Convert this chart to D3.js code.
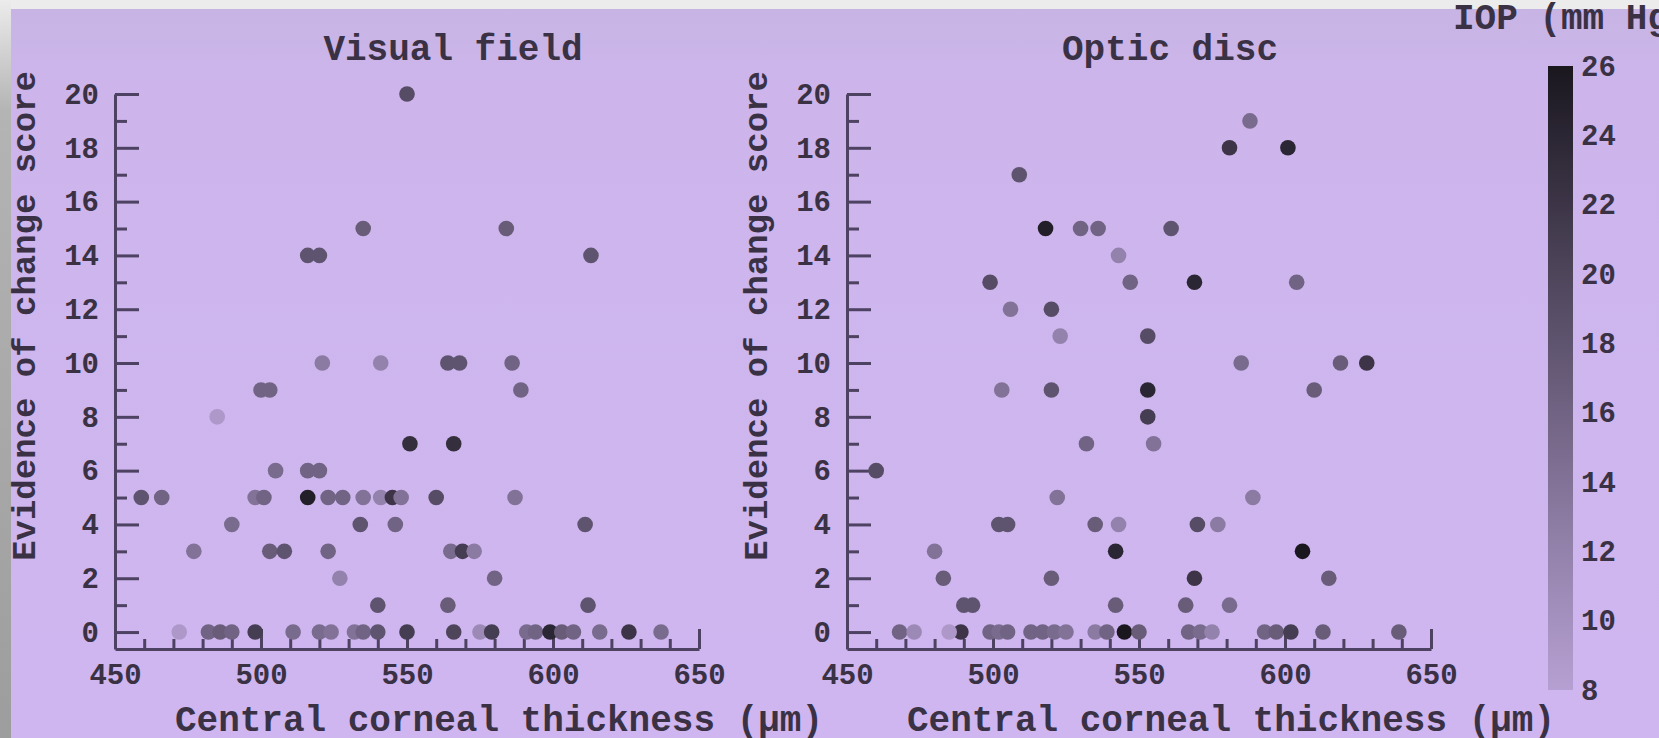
<!DOCTYPE html>
<html>
<head>
<meta charset="utf-8">
<script src="https://cdn.jsdelivr.net/npm/d3@7"></script>
<style>
  body { margin: 0; background: #cfb6f0; overflow: hidden; }
  text { font-family: "Liberation Mono", "Courier New", monospace; fill: #3a3244; font-weight: bold; }
  .tick text { font-size: 29px; }
  .axis path, .axis line { stroke: #4e4262; stroke-width: 3; }
</style>
</head>
<body>
<div id="chart"></div>
<script>
// Visual field panel: CCT (um), evidence of change score, IOP (mm Hg)
const vfCct   = [550, 535, 584, 516, 520, 613, 521, 541, 564, 568, 586, 500, 503, 589, 485, 551, 566,
                 505, 516, 520, 459, 466, 498, 501, 516, 523, 528, 535, 541, 545, 548, 560, 587,
                 490, 534, 546, 611, 477, 503, 508, 523, 565, 569, 573, 527, 580, 540, 564, 612,
                 472, 482, 486, 490, 498, 511, 520, 524, 532, 535, 540, 550, 566, 575, 579, 591,
                 594, 599, 603, 607, 616, 626, 637];
const vfScore = [20, 15, 15, 14, 14, 14, 10, 10, 10, 10, 10, 9, 9, 9, 8, 7, 7,
                 6, 6, 6, 5, 5, 5, 5, 5, 5, 5, 5, 5, 5, 5, 5, 5,
                 4, 4, 4, 4, 3, 3, 3, 3, 3, 3, 3, 2, 2, 1, 1, 1,
                 0, 0, 0, 0, 0, 0, 0, 0, 0, 0, 0, 0, 0, 0, 0, 0,
                 0, 0, 0, 0, 0, 0, 0];
const vfIop   = [19, 17, 17, 18, 18, 18, 13, 12, 18, 18, 16, 16, 16, 16, 9, 23, 23,
                 15, 16, 16, 18, 16, 14, 16, 25, 16, 16, 14, 12, 22, 14, 19, 14,
                 15, 18, 16, 18, 14, 17, 18, 16, 15, 21, 13, 12, 16, 18, 17, 18,
                 9, 16, 17, 16, 21, 15, 15, 14, 14, 16, 18, 21, 20, 11, 21, 15,
                 16, 24, 17, 16, 15, 22, 15];

// Optic disc panel
const odCct   = [588, 581, 601, 509, 518, 530, 536, 561, 543, 499, 547, 569, 604, 506, 520, 523, 553,
                 585, 619, 628, 503, 520, 553, 610, 553, 532, 555, 460, 522, 589,
                 502, 505, 535, 543, 570, 577, 480, 542, 606, 483, 520, 569, 615,
                 490, 493, 542, 566, 581,
                 468, 473, 489, 485, 499, 502, 505, 513, 517, 521, 525, 535, 539, 545, 550, 567,
                 571, 575, 593, 597, 602, 613, 639];
const odScore = [19, 18, 18, 17, 15, 15, 15, 15, 14, 13, 13, 13, 13, 12, 12, 11, 11,
                 10, 10, 10, 9, 9, 9, 9, 8, 7, 7, 6, 5, 5,
                 4, 4, 4, 4, 4, 4, 3, 3, 3, 2, 2, 2, 2,
                 1, 1, 1, 1, 1,
                 0, 0, 0, 0, 0, 0, 0, 0, 0, 0, 0, 0, 0, 0, 0, 0,
                 0, 0, 0, 0, 0, 0, 0];
const odIop   = [15, 22, 24, 18, 25, 16, 16, 18, 12, 19, 16, 24, 16, 14, 19, 12, 19,
                 15, 17, 22, 14, 18, 24, 17, 21, 16, 14, 19, 14, 13,
                 18, 18, 17, 12, 19, 13, 14, 24, 26, 17, 17, 22, 17,
                 18, 18, 17, 17, 15,
                 16, 11, 22, 9, 16, 15, 16, 16, 16, 15, 14, 13, 16, 26, 17, 16,
                 15, 12, 16, 17, 21, 17, 17];

const xTicks = [450, 500, 550, 600, 650];
const xMinor = d3.range(460, 650, 10).filter(v => v % 50 !== 0);
const yTicks = d3.range(0, 21, 2);
const yMinor = d3.range(1, 20, 2);
const iopTicks = d3.range(8, 27, 2);

const width = 1659, height = 738;

const svg = d3.select("#chart").append("svg")
    .attr("width", width)
    .attr("height", height);

const defs = svg.append("defs");

// page background: lavender with a grey frame at top and left
const bgGrad = defs.append("linearGradient").attr("id", "bg")
    .attr("x1", 0).attr("y1", 0).attr("x2", 0).attr("y2", 1);
bgGrad.append("stop").attr("offset", "0%").attr("stop-color", "#c7b4e3");
bgGrad.append("stop").attr("offset", "12%").attr("stop-color", "#cdb5ec");
bgGrad.append("stop").attr("offset", "100%").attr("stop-color", "#cfb6f0");
svg.append("rect").attr("width", width).attr("height", height).attr("fill", "url(#bg)");

const sideGrad = defs.append("linearGradient").attr("id", "side")
    .attr("x1", 0).attr("y1", 0).attr("x2", 0).attr("y2", 1);
sideGrad.append("stop").attr("offset", "0%").attr("stop-color", "#ececec");
sideGrad.append("stop").attr("offset", "15%").attr("stop-color", "#b4b4b4");
sideGrad.append("stop").attr("offset", "100%").attr("stop-color", "#9d9d9d");
svg.append("rect").attr("width", width).attr("height", 9).attr("fill", "#ececec");
svg.append("rect").attr("width", 11).attr("height", height).attr("fill", "url(#side)");

const color = d3.scaleLinear()
    .domain([8, 26])
    .range(["#b6a0d3", "#1a171f"]);

function panel(opt) {
    const x = d3.scaleLinear().domain([450, 650]).range([opt.left, opt.left + 584]);
    const y = d3.scaleLinear().domain([-0.63, 20]).range([649, 94]);

    const g = svg.append("g");

    // y axis, major + minor inward ticks
    g.append("g").attr("class", "axis")
        .attr("transform", `translate(${opt.left},0)`)
        .call(d3.axisLeft(y).tickValues(yTicks).tickSize(-24).tickSizeOuter(0).tickPadding(16));
    g.append("g").attr("class", "axis")
        .attr("transform", `translate(${opt.left},0)`)
        .call(d3.axisLeft(y).tickValues(yMinor).tickSize(-12).tickFormat(""))
        .select(".domain").remove();

    // x axis
    g.append("g").attr("class", "axis")
        .attr("transform", `translate(0,649)`)
        .call(d3.axisBottom(x).tickValues(xTicks).tickSize(-20).tickSizeOuter(0).tickPadding(14));
    g.append("g").attr("class", "axis")
        .attr("transform", `translate(0,649)`)
        .call(d3.axisBottom(x).tickValues(xMinor).tickSize(-10).tickFormat(""))
        .select(".domain").remove();

    g.selectAll(".dot")
        .data(d3.range(opt.cct.length))
        .enter().append("circle")
        .attr("class", "dot")
        .attr("cx", i => x(opt.cct[i]))
        .attr("cy", i => y(opt.score[i]))
        .attr("r", 7.8)
        .attr("fill", i => color(opt.iop[i]));

    g.append("text")
        .attr("x", opt.titleX).attr("y", 60)
        .attr("text-anchor", "middle")
        .style("font-size", "36px")
        .text(opt.title);

    g.append("text")
        .attr("x", opt.xLabelX).attr("y", 731)
        .attr("text-anchor", "middle")
        .style("font-size", "36px")
        .text("Central corneal thickness (µm)");

    g.append("text")
        .attr("transform", `translate(${opt.yLabelX},316) rotate(-90)`)
        .attr("text-anchor", "middle")
        .style("font-size", "34px")
        .text("Evidence of change score");
}

panel({ left: 115, cct: vfCct, score: vfScore, iop: vfIop,
        title: "Visual field", titleX: 453, xLabelX: 499, yLabelX: 35 });
panel({ left: 847, cct: odCct, score: odScore, iop: odIop,
        title: "Optic disc", titleX: 1170, xLabelX: 1231, yLabelX: 767 });

// colour bar
const cb = d3.scaleLinear().domain([8, 26]).range([690, 66]);
const cbGrad = defs.append("linearGradient").attr("id", "cbar")
    .attr("x1", 0).attr("y1", 1).attr("x2", 0).attr("y2", 0);
d3.range(8, 26.1, 2).forEach(v => {
    cbGrad.append("stop")
        .attr("offset", `${(v - 8) / 18 * 100}%`)
        .attr("stop-color", color(v));
});
svg.append("rect")
    .attr("x", 1548).attr("y", cb(26))
    .attr("width", 25).attr("height", cb(8) - cb(26))
    .attr("fill", "url(#cbar)");

const cbAxis = svg.append("g")
    .attr("transform", "translate(1573,0)")
    .call(d3.axisRight(cb).tickValues(iopTicks).tickSize(0).tickPadding(8));
cbAxis.select(".domain").remove();

svg.append("text")
    .attr("x", 1453).attr("y", 29)
    .style("font-size", "36px")
    .text("IOP (mm Hg)");
</script>
</body>
</html>
